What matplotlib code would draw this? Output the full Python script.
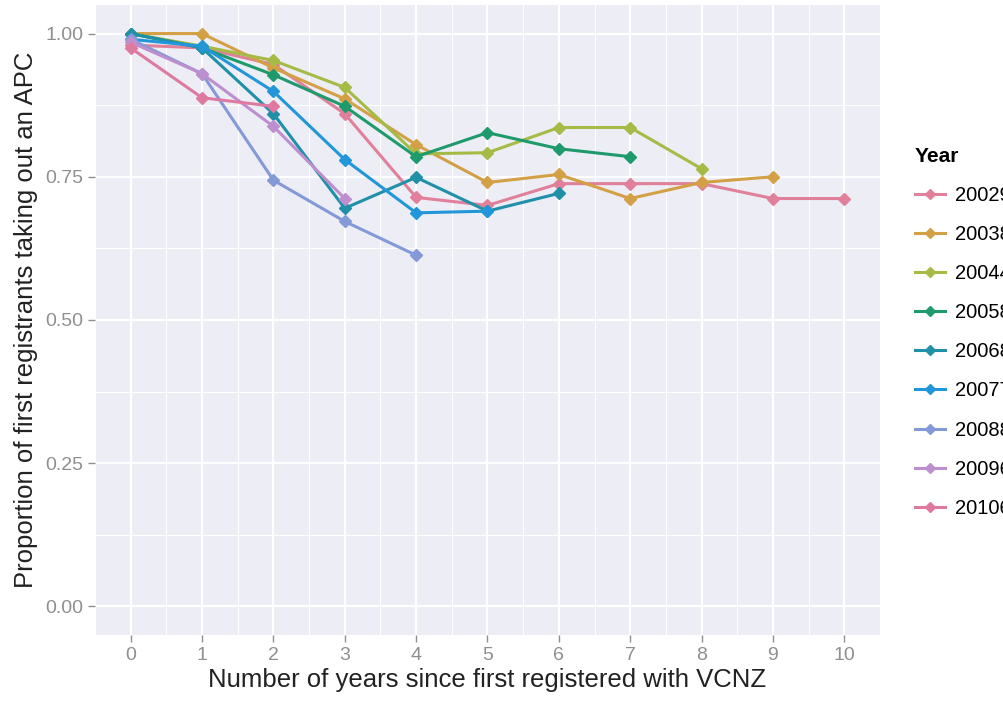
import matplotlib
matplotlib.use('Agg')
import matplotlib.pyplot as plt
import numpy as np

years = ['2002', '2003', '2004', '2005', '2006', '2007', '2008', '2009', '2010']
labels = ['20029', '20038', '20044', '20058', '20068', '20077', '20088', '20096', '20106']
colors = ['#E0809A', '#D4A046', '#A5BB45', '#1E9A6C', '#2090A8',
          '#2196D8', '#8499D8', '#BE8FCE', '#DE7AA0']

# proportion per year since registration
p2002 = [0.98, 0.975, 0.946, 0.86, 0.714, 0.70, 0.738, 0.738, 0.738, 0.712, 0.712]
p2003 = [1.0, 1.0, 0.94, 0.886, 0.806, 0.74, 0.754, 0.712, 0.74, 0.75]
p2004 = [1.0, 0.978, 0.953, 0.906, 0.79, 0.792, 0.836, 0.836, 0.764]
p2005 = [1.0, 0.975, 0.928, 0.873, 0.785, 0.827, 0.799, 0.785]
p2006 = [1.0, 0.975, 0.86, 0.695, 0.749, 0.69, 0.721]
p2007 = [0.99, 0.978, 0.899, 0.78, 0.687, 0.69]
p2008 = [0.99, 0.93, 0.744, 0.672, 0.613]
p2009 = [0.985, 0.93, 0.838, 0.712]
p2010 = [0.975, 0.888, 0.873]
series = [p2002, p2003, p2004, p2005, p2006, p2007, p2008, p2009, p2010]

plt.rcParams['font.family'] = ['Liberation Sans', 'DejaVu Sans']

fig = plt.figure(figsize=(10.04, 7.06), dpi=100)
ax = fig.add_axes([0.0946, 0.1006, 0.7819, 0.8924])
ax.set_facecolor('#EDEDF6')

for lab, col, vals in zip(labels, colors, series):
    ax.plot(np.arange(len(vals)), vals, color=col, lw=2.2, marker='D',
            ms=6, label=lab, zorder=3)

ax.set_xticks(range(0, 11))
ax.set_yticks([0, 0.25, 0.5, 0.75, 1.0])
ax.set_yticklabels(['0.00', '0.25', '0.50', '0.75', '1.00'])
ax.set_xticks(np.arange(-0.5, 10.6, 1), minor=True)
ax.set_yticks(np.arange(0.125, 1.0, 0.25), minor=True)
ax.set_xlim(-0.5, 10.5)
ax.set_ylim(-0.05, 1.05)
ax.grid(which='major', color='white', lw=1.6, zorder=0)
ax.grid(which='minor', color='white', lw=0.7, zorder=0)
ax.set_axisbelow(True)
for s in ax.spines.values():
    s.set_visible(False)
ax.tick_params(which='major', colors='#8F8F8F', labelsize=14, length=5, width=1)
ax.tick_params(which='minor', length=0)

ax.set_xlabel('Number of years since first registered with VCNZ', fontsize=18.5, color='#222222', labelpad=3)
ax.set_ylabel('Proportion of first registrants taking out an APC', fontsize=18.5, color='#222222', labelpad=5)

leg = fig.legend(loc='upper left', bbox_to_anchor=(0.893, 0.818), frameon=False,
                 title='Year', fontsize=14.5, handlelength=1.5, handletextpad=0.5,
                 labelspacing=1.0, markerscale=0.8)
leg.get_title().set_fontweight('bold')
leg.get_title().set_fontsize(15)
leg._legend_box.align = 'left'

fig.savefig('out.png', dpi=100)
